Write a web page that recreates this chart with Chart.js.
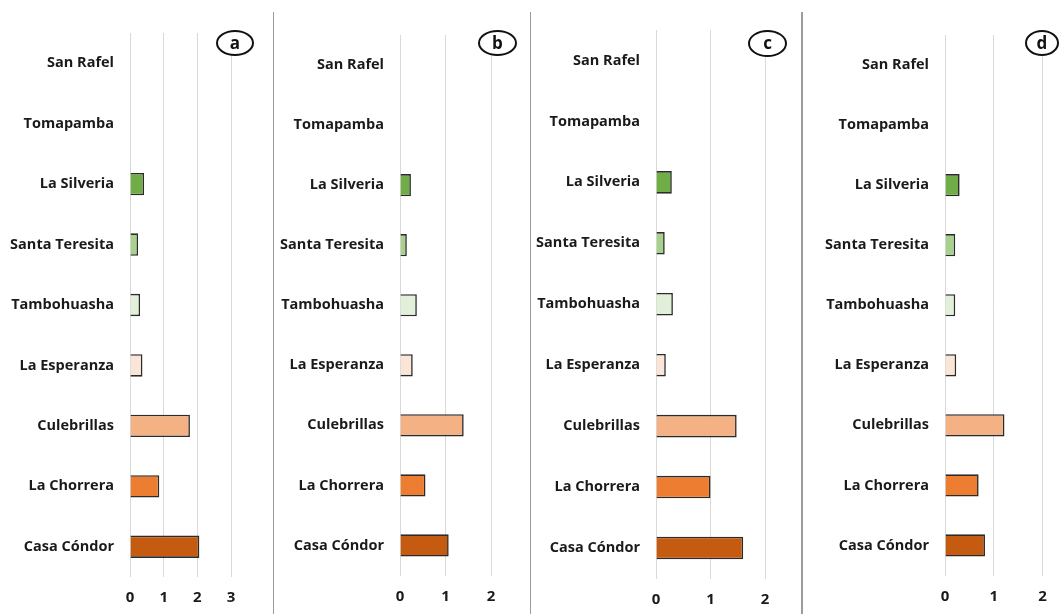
<!DOCTYPE html>
<html>
<head>
<meta charset="utf-8">
<script src="https://cdn.jsdelivr.net/npm/chart.js@4/dist/chart.umd.min.js"></script>
<style>
  html, body { margin: 0; padding: 0; background: #fff; }
  body { width: 1060px; height: 614px; position: relative; overflow: hidden; font-family: 'Open Sans', sans-serif; }
  canvas.panel { position: absolute; top: 0; }
  .sep { position: absolute; top: 12px; height: 602px; width: 1.5px; background: #9c9c9c; }
  .tag { position: absolute; box-sizing: border-box; border: 2px solid #111; border-radius: 50%;
         background: #fff; color: #111; font: 700 17px 'Open Sans', sans-serif;
         display: flex; align-items: center; justify-content: center; line-height: 1; padding-bottom: 2px; }
</style>
</head>
<body>
<script>
// Sampling sites, listed top to bottom
const sites = ['San Rafel', 'Tomapamba', 'La Silveria', 'Santa Teresita', 'Tambohuasha',
               'La Esperanza', 'Culebrillas', 'La Chorrera', 'Casa Cóndor'];

// Values per site for each panel
const valuesA = [0, 0, 0.42, 0.24, 0.30, 0.37, 1.78, 0.87, 2.06];
const valuesB = [0, 0, 0.24, 0.15, 0.37, 0.28, 1.40, 0.56, 1.07];
const valuesC = [0, 0, 0.29, 0.16, 0.31, 0.18, 1.48, 1.00, 1.60];
const valuesD = [0, 0, 0.30, 0.21, 0.21, 0.23, 1.22, 0.69, 0.82];

// Axis upper limits and panel letters
const axisMax = [3, 2, 2, 2];
const panelTags = ['a', 'b', 'c', 'd'];

// Fill colour per site
const siteColors = ['#ffffff', '#ffffff', '#70AD47', '#A9D18E', '#E2F0D9',
                    '#FBE5D6', '#F4B183', '#ED7D31', '#C55A11'];

// Canvas placement and plot-area box for each panel (page pixels)
const panels = [
  { values: valuesA, left: 0,   width: 273, plotLeft: 130, plotRight: 231,   top: 33, bottom: 577,
    tag: { cx: 235,  cy: 43,   w: 38, h: 26 } },
  { values: valuesB, left: 275, width: 255, plotLeft: 400, plotRight: 491,   top: 35, bottom: 575.5,
    tag: { cx: 497.5, cy: 43,  w: 39, h: 26 } },
  { values: valuesC, left: 531, width: 271, plotLeft: 656, plotRight: 765,   top: 30, bottom: 578.5,
    tag: { cx: 767.5, cy: 43,  w: 39, h: 27 } },
  { values: valuesD, left: 803, width: 257, plotLeft: 945, plotRight: 1042.5, top: 35, bottom: 575.5,
    tag: { cx: 1042, cy: 43,   w: 34, h: 26 } }
];

const H = 614;
const textColor = '#1a1a1a';
const labelFont = { family: "'Open Sans', sans-serif", size: 14.5, weight: '700' };
const tickFont = { family: "'Open Sans', sans-serif", size: 15, weight: '700' };

// Vertical separators between panels
[273.5, 530.5, 802].forEach(x => {
  const d = document.createElement('div');
  d.className = 'sep';
  d.style.left = (x - 0.75) + 'px';
  document.body.appendChild(d);
});

panels.forEach((p, i) => {
  const cv = document.createElement('canvas');
  cv.className = 'panel';
  cv.width = p.width;
  cv.height = H;
  cv.style.left = p.left + 'px';
  cv.style.width = p.width + 'px';
  cv.style.height = H + 'px';
  document.body.appendChild(cv);

  new Chart(cv.getContext('2d'), {
    type: 'bar',
    data: {
      labels: sites,
      datasets: [{
        data: p.values,
        backgroundColor: siteColors,
        borderColor: '#2b2b2b',
        borderWidth: 1.6,
        barPercentage: 1,
        categoryPercentage: 0.37
      }]
    },
    options: {
      indexAxis: 'y',
      responsive: false,
      animation: false,
      devicePixelRatio: 1,
      layout: { padding: { top: p.top, right: p.width - (p.plotRight - p.left), bottom: 0, left: 0 } },
      plugins: { legend: { display: false }, tooltip: { enabled: false } },
      scales: {
        x: {
          min: 0,
          max: axisMax[i],
          ticks: { stepSize: 1, color: textColor, font: tickFont, padding: 12 },
          grid: { color: '#d9d9d9', lineWidth: 1, drawTicks: false },
          border: { display: false },
          afterFit: s => { s.height = H - p.bottom; }
        },
        y: {
          ticks: { autoSkip: false, color: textColor, font: labelFont, padding: 16 },
          grid: { display: false, drawTicks: false },
          border: { display: false },
          afterFit: s => { s.width = p.plotLeft - p.left; }
        }
      }
    }
  });

  const t = document.createElement('div');
  t.className = 'tag';
  t.textContent = panelTags[i];
  t.style.left = (p.tag.cx - p.tag.w / 2) + 'px';
  t.style.top = (p.tag.cy - p.tag.h / 2) + 'px';
  t.style.width = p.tag.w + 'px';
  t.style.height = p.tag.h + 'px';
  document.body.appendChild(t);
});
</script>
</body>
</html>
